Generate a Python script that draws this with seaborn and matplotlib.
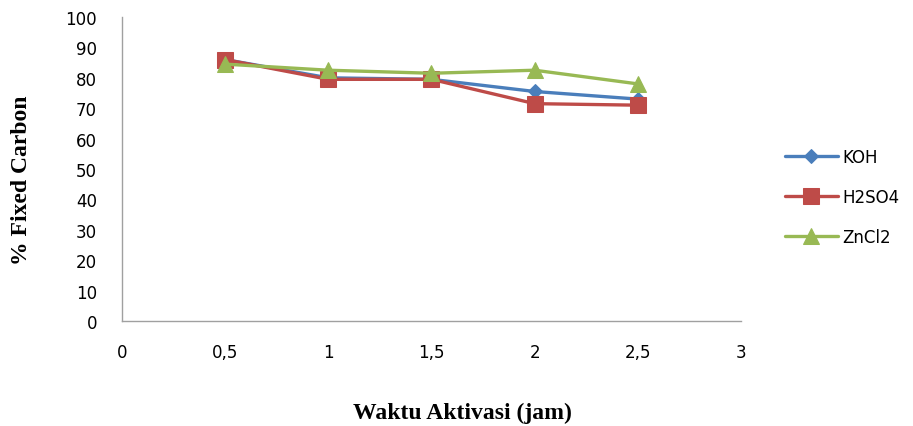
import numpy as np
import pandas as pd
import matplotlib
matplotlib.use("Agg")
import matplotlib.pyplot as plt
import seaborn as sns

# Activation time (hours) and fixed-carbon content (%) per activator
waktu = [0.5, 1.0, 1.5, 2.0, 2.5]
koh = [86.0, 80.0, 79.5, 75.5, 73.0]
h2so4 = [86.0, 79.5, 79.5, 71.5, 71.0]
zncl2 = [84.5, 82.5, 81.5, 82.5, 78.0]
series_names = ["KOH", "H2SO4", "ZnCl2"]
x_ticks = [0, 0.5, 1, 1.5, 2, 2.5, 3]
x_tick_labels = ["0", "0,5", "1", "1,5", "2", "2,5", "3"]
y_ticks = [0, 10, 20, 30, 40, 50, 60, 70, 80, 90, 100]

df = pd.DataFrame({
    "waktu": waktu * 3,
    "fc": koh + h2so4 + zncl2,
    "aktivator": sum([[n] * len(waktu) for n in series_names], []),
})

sns.set_style("white")
plt.rcParams["font.family"] = ["DejaVu Sans"]
plt.rcParams["text.color"] = "#000000"

palette = {"KOH": "#4A7EBB", "H2SO4": "#BE4B48", "ZnCl2": "#98B954"}
markers = {"KOH": "D", "H2SO4": "s", "ZnCl2": "^"}
msizes = {"KOH": 7.5, "H2SO4": 11, "ZnCl2": 11}

fig = plt.figure(figsize=(9.13, 4.27), dpi=100)
ax = fig.add_axes([0.1336, 0.2459, 0.6780, 0.7119])

for name in series_names:
    sub = df[df["aktivator"] == name]
    sns.lineplot(data=sub, x="waktu", y="fc", ax=ax, color=palette[name],
                 marker=markers[name], markersize=msizes[name],
                 markeredgecolor=palette[name], linewidth=2.4, label=name)

ax.set_xlim(0, 3)
ax.set_ylim(0, 100)
ax.set_xticks(x_ticks)
ax.set_xticklabels(x_tick_labels)
ax.set_yticks(y_ticks)
ax.tick_params(axis="both", length=0, labelsize=12, colors="#000000")
ax.tick_params(axis="x", pad=16)
ax.tick_params(axis="y", pad=18)
for s in ["top", "right"]:
    ax.spines[s].set_visible(False)
for s in ["left", "bottom"]:
    ax.spines[s].set_color("#A0A0A0")
    ax.spines[s].set_linewidth(1.0)

ax.set_xlabel("")
ax.set_ylabel("")
fig.text(0.507, 0.033, "Waktu Aktivasi (jam)", ha="center", va="center",
         fontsize=17, fontweight="bold", family="Liberation Serif", color="#000000")
fig.text(0.024, 0.578, "% Fixed Carbon", ha="center", va="center", rotation=90,
         fontsize=17, fontweight="bold", family="Liberation Serif", color="#000000")

leg = ax.legend(loc="upper left", bbox_to_anchor=(1.06, 0.59), frameon=False,
                fontsize=12, handlelength=3.2, handletextpad=0.25,
                labelspacing=1.3, borderaxespad=0)
for t in leg.get_texts():
    t.set_color("#000000")

fig.savefig("out.png", dpi=100)
